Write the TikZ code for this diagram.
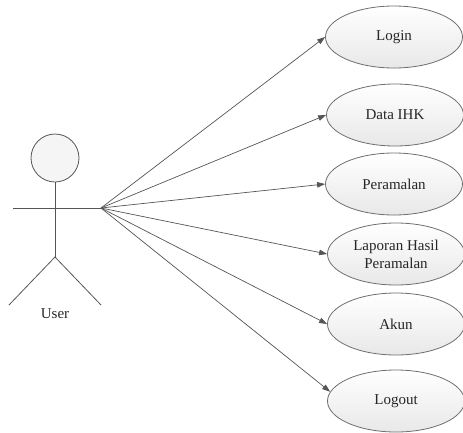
\documentclass[tikz,border=0pt]{standalone}
\usepackage{fontspec}
\setmainfont{Liberation Serif}
\usetikzlibrary{shapes.geometric,arrows.meta}
\definecolor{lineg}{HTML}{555555}
\definecolor{edgeg}{HTML}{6E6E6E}
\tikzset{
  usecase/.style={ellipse, draw=edgeg, line width=0.8pt, top color=white, bottom color=gray!18,
    minimum width=137pt, minimum height=62pt, inner sep=0pt, align=center,
    font=\fontsize{15}{18}\selectfont, text=black!85},
  actorline/.style={draw=lineg, line width=0.8pt},
  assoc/.style={draw=lineg, line width=0.7pt, -{Triangle[length=8pt,width=5.5pt]}},
}
\begin{document}
\begin{tikzpicture}[x=1pt,y=-1pt]
\useasboundingbox (0,0) rectangle (463,432);
% actor
\node[circle, draw=lineg, line width=0.8pt, fill=gray!8, minimum size=48pt, inner sep=0pt] (head) at (55,158) {};
\coordinate (hip) at (55,257);
\coordinate (armL) at (13,208);
\coordinate (armR) at (101,208);
\coordinate (legL) at (9,305);
\coordinate (legR) at (101,305);
\draw[actorline] (head.south) -- (hip);
\draw[actorline] (armL) -- (armR);
\draw[actorline] (legL) -- (hip) -- (legR);
\node[font=\fontsize{15}{18}\selectfont, text=black!85] (user) at (55,314) {User};
% use cases
\node[usecase] (login) at (394,37) {Login};
\node[usecase] (data) at (395,115) {Data IHK};
\node[usecase] (peram) at (394,184) {Peramalan};
\node[usecase] (lap) at (396,254) {Laporan Hasil\\Peramalan};
\node[usecase] (akun) at (396,324) {Akun};
\node[usecase] (logout) at (396,401) {Logout};
% associations
\draw[assoc] (armR) -- (login.west);
\draw[assoc] (armR) -- (data.west);
\draw[assoc] (armR) -- (peram.west);
\draw[assoc] (armR) -- (lap.west);
\draw[assoc] (armR) -- (akun.west);
\draw[assoc] (armR) -- (logout.172);
\end{tikzpicture}
\end{document}
